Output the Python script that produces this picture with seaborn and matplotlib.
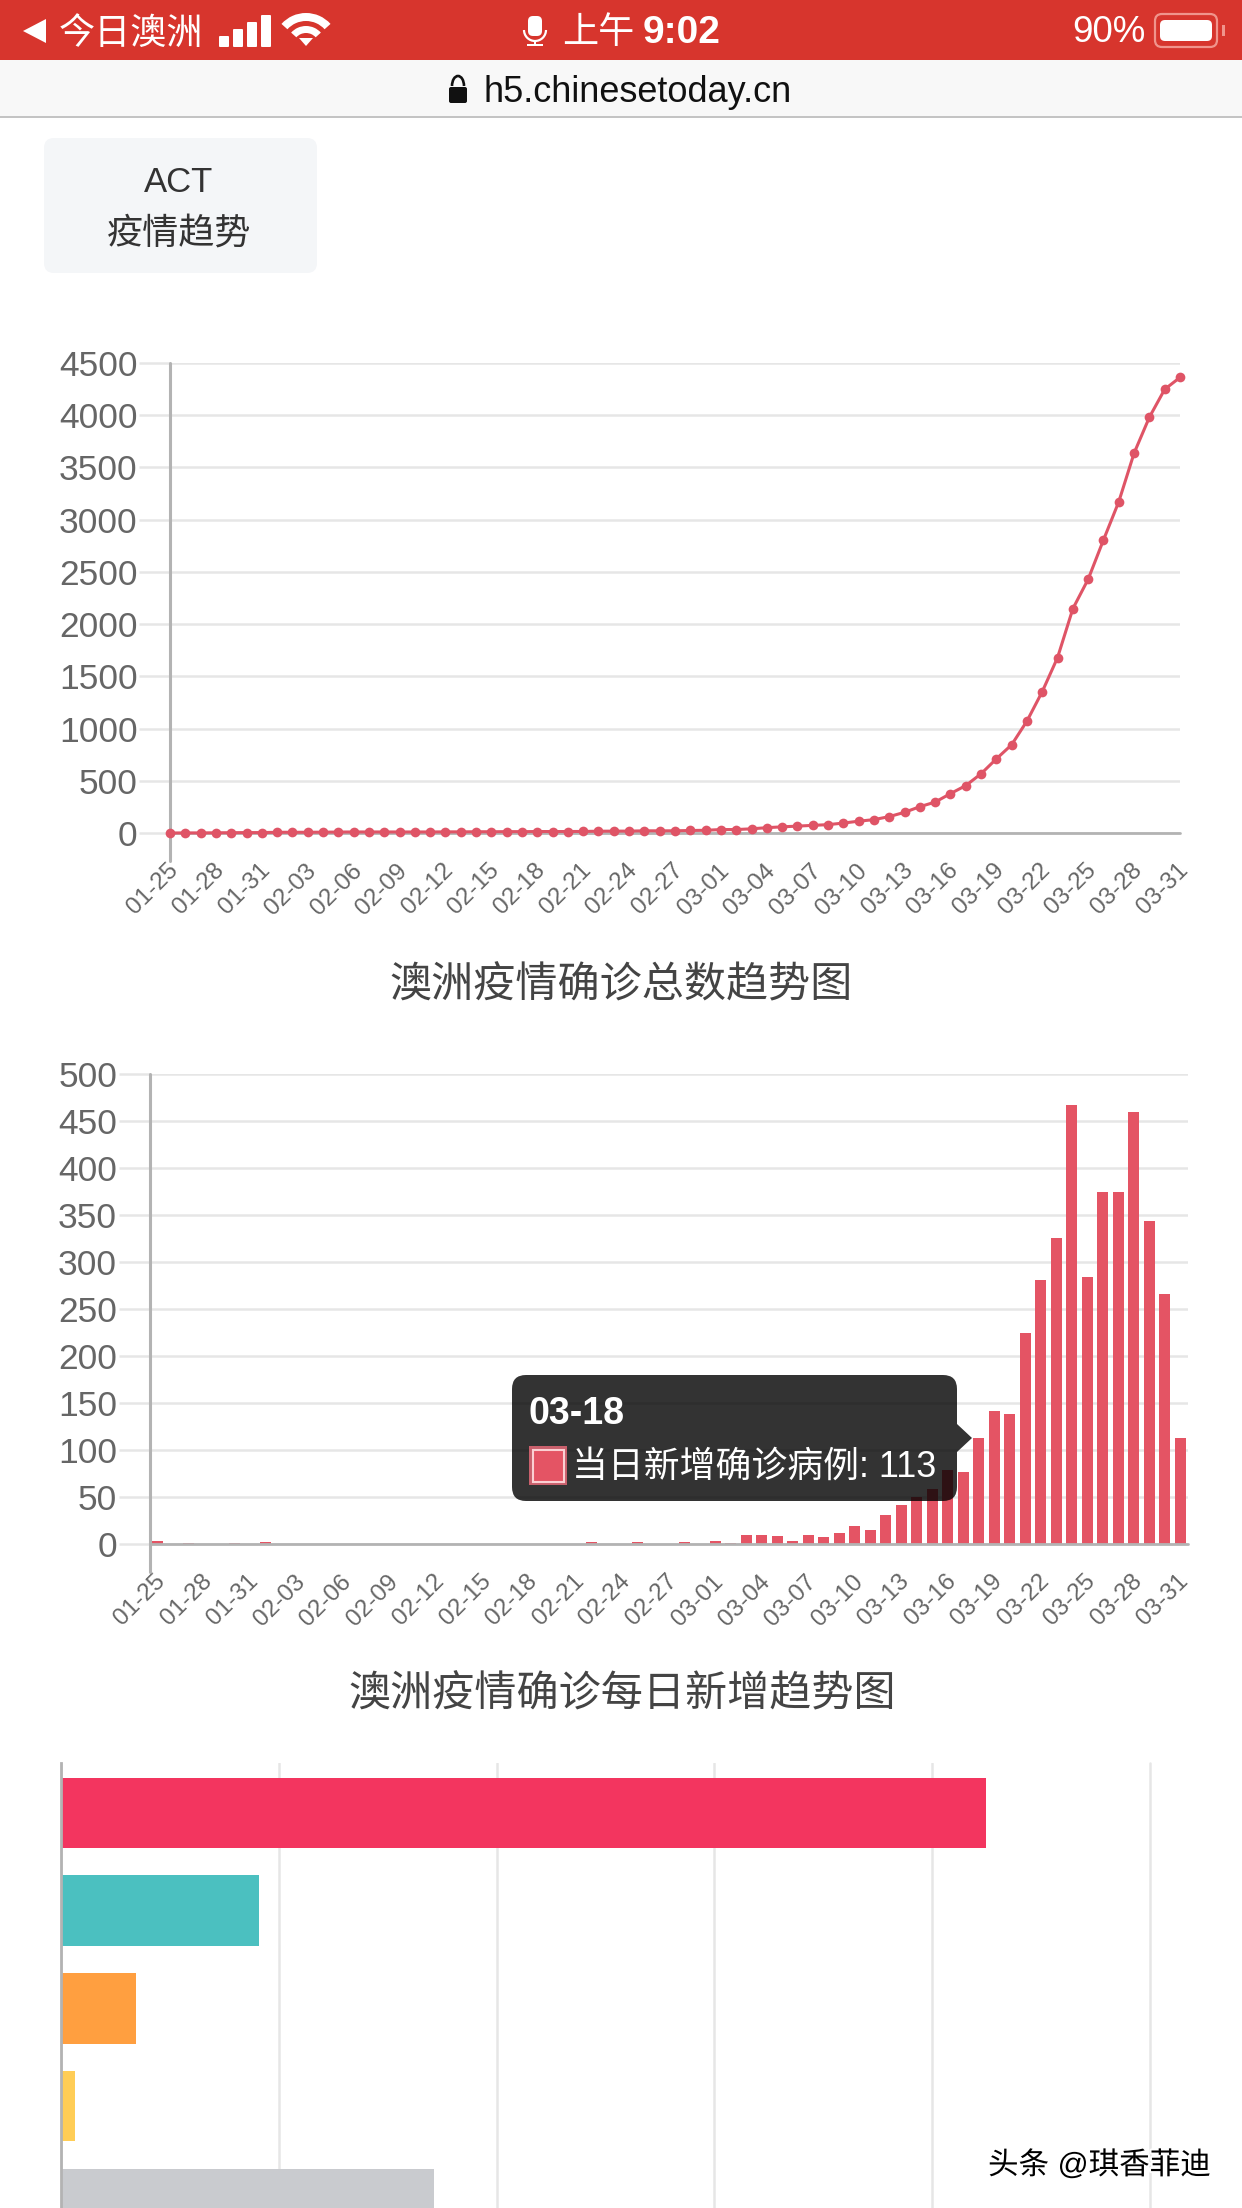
import pandas as pd
import seaborn as sns
import matplotlib.pyplot as plt
import matplotlib.patheffects as pe
from matplotlib.patches import FancyBboxPatch, Rectangle, Polygon, Arc, Wedge
from matplotlib.transforms import ScaledTranslation

W, H = 1242, 2208

# 数据
dates = list(pd.date_range("2020-01-25", "2020-03-31").strftime("%m-%d"))
total_cases = [
    0, 1, 1, 2, 3, 4, 4, 7, 7, 7, 8, 9, 10, 10, 10, 10, 10, 10, 11, 11,
    12, 12, 13, 13, 14, 14, 14, 15, 17, 18, 18, 21, 21, 21, 24,
    26, 33, 33, 40, 51, 59, 66, 73, 80, 95, 113, 128, 157, 198, 252, 296,
    377, 454, 567, 710, 845, 1072, 1354, 1680, 2148, 2430, 2806, 3172,
    3637, 3981, 4248, 4362,
]
daily_new = [
    3, 0, 1, 0, 0.4, 1, 0, 2.5, 0, 0, 0.4, 0.4, 0.4, 0, 0, 0, 0, 0, 0, 0,
    0, 0, 0, 0, 0, 0, 0, 0.4, 2.5, 0.4, 0, 2.5, 0, 0, 2.5, 0, 3, 1,
    10, 10, 9, 3.5, 10, 7, 12, 19.5, 14.5, 30.5, 41, 50, 58, 79, 77, 113,
    142, 138, 225, 281, 326, 467, 284, 374, 375, 460, 344, 266, 113,
]
status_names = ["确诊", "治愈", "隔离", "死亡", "其他"]
status_values = [4247, 909, 345, 65, 1713]
status_colors = ["#F3355F", "#4BC0C0", "#FF9F40", "#FFCD56", "#C9CBCF"]

RED = "#E45464"
LINE_RED = "#DF5466"
GRID = "#E6E6E6"
AXIS = "#B3B3B3"
TICK = "#666666"

sns.set_theme(style="white")
plt.rcParams["font.family"] = ["Liberation Sans", "Noto Sans CJK SC"]

fig = plt.figure(figsize=(W / 100, H / 100), dpi=100, facecolor="white")
label_shift = ScaledTranslation(-3 / 100, 0, fig.dpi_scale_trans)


def px_axes(left, top, right, bottom):
    return fig.add_axes([left / W, 1 - bottom / H, (right - left) / W, (bottom - top) / H])


def style_value_axes(ax, ticks, tick_len=31, axis_drop=28):
    # 横向网格线 + 左侧刻度
    sns.despine(ax=ax, left=True, bottom=True, top=True, right=True)
    ax.set_yticks(ticks)
    ax.set_ylim(ticks[0], ticks[-1])
    ax.grid(axis="y", color=GRID, lw=1.8)
    ax.grid(axis="x", visible=False)
    ax.set_axisbelow(True)
    ax.tick_params(axis="y", length=tick_len * 0.72, width=1.8, color=GRID, pad=1,
                   labelsize=25.5, labelcolor=TICK, left=True)
    ax.get_yticklines()[0].set_color(AXIS)
    ax.set_ylabel("")
    ax.set_xlabel("")
    ax.set_xticks(range(0, len(dates), 3))
    ax.set_xticklabels(dates[::3], rotation=45, ha="right", rotation_mode="anchor",
                       fontsize=17.5, color=TICK)
    ax.tick_params(axis="x", length=0, pad=19)
    for lab in ax.get_xticklabels():
        lab.set_transform(lab.get_transform() + label_shift)
    ax.axhline(0, color=AXIS, lw=2, zorder=1, clip_on=False)
    height = ax.get_window_extent().height
    ax.plot([ax.get_xlim()[0]] * 2, [-axis_drop / height, 1], color=AXIS, lw=2.2,
            transform=ax.get_xaxis_transform(), clip_on=False, zorder=1)


# 确诊总数折线图
ax1 = px_axes(170, 363, 1180, 833)
line_df = pd.DataFrame({"date": dates, "total": total_cases})
sns.lineplot(data=line_df, x="date", y="total", sort=False, color=LINE_RED, lw=2.2,
             marker="o", markersize=7, markeredgewidth=0, clip_on=False, zorder=5, ax=ax1)
ax1.set_xlim(0, len(dates) - 1)
style_value_axes(ax1, list(range(0, 5000, 500)))

# 每日新增柱状图
ax2 = px_axes(149.5, 1074, 1188, 1544)
bar_df = pd.DataFrame({"date": dates, "new": daily_new})
sns.barplot(data=bar_df, x="date", y="new", color=RED, saturation=1, width=0.735,
            linewidth=0, ax=ax2)
ax2.set_xlim(-0.5, len(dates) - 0.5)
style_value_axes(ax2, list(range(0, 550, 50)))

# 横向柱状图 (底部被截断)
ax3 = px_axes(61, 1763, 1150, H)
status_df = pd.DataFrame({"name": status_names, "value": status_values})
sns.barplot(data=status_df, y="name", x="value", hue="name", palette=status_colors,
            saturation=1, width=0.72, linewidth=0, legend=False, orient="h", ax=ax3)
ax3.set_xlim(0, 5000)
ax3.set_ylim(4.04, -0.51)
sns.despine(ax=ax3, left=False, bottom=True, top=True, right=True)
ax3.spines["left"].set_color(AXIS)
ax3.spines["left"].set_linewidth(2)
ax3.set_xticks(range(0, 6000, 1000))
ax3.grid(axis="x", color=GRID, lw=1.8)
ax3.grid(axis="y", visible=False)
ax3.set_axisbelow(True)
ax3.spines["left"].set_zorder(6)
ax3.tick_params(left=False, bottom=False, labelleft=False, labelbottom=False)
ax3.set_xlabel("")
ax3.set_ylabel("")
ax3.xaxis.get_gridlines()[-1].set_clip_on(False)

# 页面元素用像素坐标画
ui = fig.add_axes([0, 0, 1, 1], facecolor="none")
ui.set_xlim(0, W)
ui.set_ylim(H, 0)
ui.axis("off")

ui.add_patch(Rectangle((0, 0), W, 60, color="#D7352D", lw=0))
ui.add_patch(Rectangle((0, 60), W, 56, color="#F8F8F8", lw=0))
ui.add_patch(Rectangle((0, 116), W, 1.6, color="#C4C4C4", lw=0))

# 状态栏
ui.add_patch(Polygon([(23, 31), (46, 19), (46, 43)], color="white", lw=0))
ui.text(59, 34, "今日澳洲", color="white", fontsize=26, va="center", ha="left")
for bx, bt in zip([219, 233, 247, 261], [36, 29, 22, 15]):
    ui.add_patch(FancyBboxPatch((bx + 1, bt + 1), 8, 45 - bt, boxstyle="round,pad=1",
                                color="white", lw=0))
# wifi
for r, w in [(33, 8), (20, 7)]:
    ui.add_patch(Wedge((306, 46), r, 222, 318, width=w, color="white", lw=0))
ui.add_patch(Polygon([(306, 46), (299, 38), (313, 38)], color="white", lw=0))
# 麦克风
ui.add_patch(FancyBboxPatch((530, 18), 10, 16, boxstyle="round,pad=2,rounding_size=5",
                            color="white", lw=0))
ui.add_patch(Arc((535, 30), 22, 22, theta1=0, theta2=180, color="white", lw=1.6))
ui.add_patch(Rectangle((534, 41), 2.4, 4, color="white", lw=0))
ui.add_patch(Rectangle((527, 44), 16, 2, color="white", lw=0))
ui.text(562, 34, "上午", color="white", fontsize=26, va="center", ha="left")
ui.text(721, 33, "9:02", color="white", fontsize=28, va="center", ha="right", fontweight="bold")
ui.text(1146, 33, "90%", color="white", fontsize=26.5, va="center", ha="right")
# 电池
ui.add_patch(FancyBboxPatch((1157, 16), 58, 29, boxstyle="round,pad=2,rounding_size=7",
                            fc="none", ec="#F0948C", lw=1.6))
ui.add_patch(FancyBboxPatch((1160, 20), 52, 21, boxstyle="round,pad=0,rounding_size=5",
                            color="white", lw=0))
ui.add_patch(Rectangle((1222, 25), 2.5, 11, color="#F0948C", lw=0))

# 地址栏
ui.add_patch(FancyBboxPatch((449, 87), 18, 16, boxstyle="round,pad=0,rounding_size=2",
                            color="#111111", lw=0))
ui.add_patch(Arc((458, 86), 12, 20, theta1=180, theta2=360, color="#111111", lw=1.9))
ui.text(483, 93, "h5.chinesetoday.cn", color="#111111", fontsize=26, va="center", ha="left")

# 左上角卡片
ui.add_patch(FancyBboxPatch((44, 138), 273, 135, boxstyle="round,pad=0,rounding_size=10",
                            color="#F4F6F8", lw=0))
ui.text(179, 182, "ACT", color="#333333", fontsize=25, va="center", ha="center")
ui.text(179, 234, "疫情趋势", color="#333333", fontsize=26, va="center", ha="center")

# 图表标题
ui.text(621, 986, "澳洲疫情确诊总数趋势图", color="#444444", fontsize=30.3, va="center", ha="center")
ui.text(622, 1695, "澳洲疫情确诊每日新增趋势图", color="#444444", fontsize=30.3, va="center", ha="center")

# tooltip
ui.add_patch(FancyBboxPatch((512, 1375), 445, 126, boxstyle="round,pad=0,rounding_size=14",
                            fc="black", alpha=0.8, lw=0))
ui.add_patch(Polygon([(957, 1424), (972, 1438), (957, 1452)], fc="black", alpha=0.8, lw=0))
ui.text(529, 1414, "03-18", color="white", fontsize=27, fontweight="bold", va="center", ha="left")
ui.add_patch(Rectangle((529, 1446), 38, 39, color="#C9606C", lw=0))
ui.add_patch(Rectangle((532.5, 1449.5), 31, 32, fc=RED, ec="#FBD0D3", lw=1.5))
ui.text(572, 1467, "当日新增确诊病例: 113", color="white", fontsize=25.8, va="center", ha="left")

# 水印
ui.text(988, 2166, "头条 @琪香菲迪", color="black", fontsize=22, va="center", ha="left",
        path_effects=[pe.withStroke(linewidth=3, foreground="white")])

fig.savefig("out.png", dpi=100, facecolor="white")
